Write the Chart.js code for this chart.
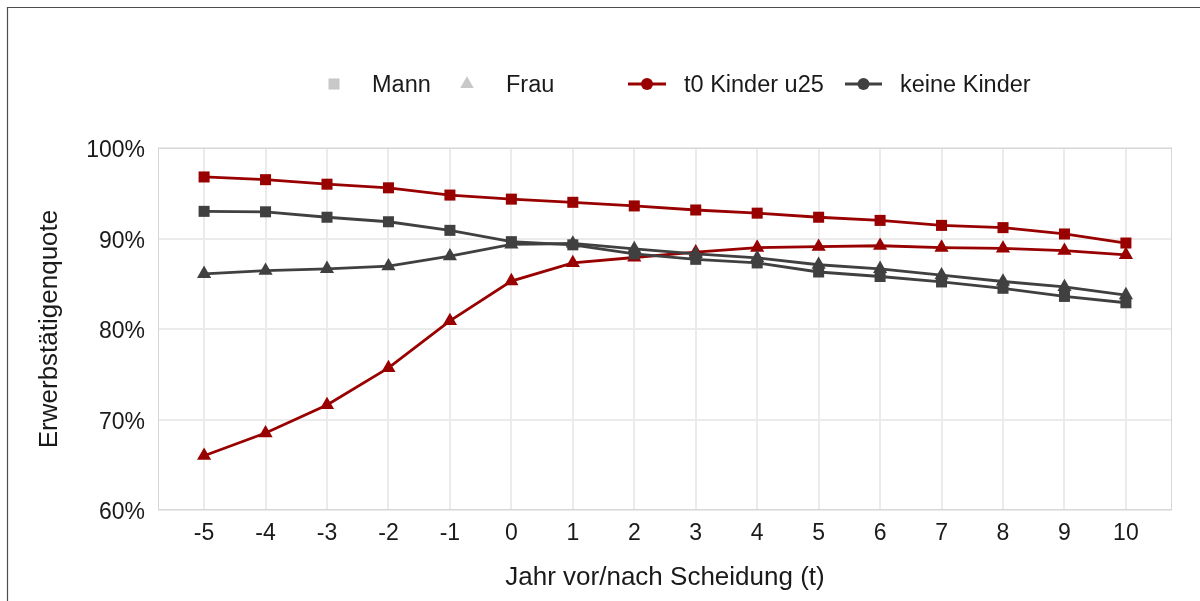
<!DOCTYPE html>
<html>
<head>
<meta charset="utf-8">
<script src="https://cdn.jsdelivr.net/npm/chart.js@4.4.1/dist/chart.umd.min.js"></script>
<style>
  html, body { margin: 0; padding: 0; background: #ffffff; }
  #wrap { width: 1200px; height: 601px; }
</style>
</head>
<body>
<div id="wrap"><canvas id="c" width="1200" height="601"></canvas></div>
<script>
// ---- data ----
const years = [-5, -4, -3, -2, -1, 0, 1, 2, 3, 4, 5, 6, 7, 8, 9, 10];
const mannKinder = [96.8, 96.5, 96.0, 95.6, 94.8, 94.35, 94.0, 93.6, 93.15, 92.8, 92.35, 92.0, 91.45, 91.2, 90.5, 89.5];
const frauKinder = [66.0, 68.5, 71.6, 75.7, 80.9, 85.3, 87.3, 87.9, 88.5, 89.0, 89.1, 89.2, 89.0, 88.9, 88.65, 88.2];
const mannKeine  = [93.0, 92.95, 92.35, 91.85, 90.9, 89.65, 89.3, 88.3, 87.7, 87.3, 86.3, 85.8, 85.2, 84.5, 83.6, 82.9];
const frauKeine  = [86.1, 86.45, 86.65, 86.95, 88.05, 89.35, 89.45, 88.85, 88.3, 87.85, 87.1, 86.65, 85.95, 85.25, 84.65, 83.75];
const yTicks = [60, 70, 80, 90, 100];
const shapeLegend = ['Mann', 'Frau'];
const colorLegend = ['t0 Kinder u25', 'keine Kinder'];
const xTitle = 'Jahr vor/nach Scheidung (t)';
const yTitle = 'Erwerbstätigenquote';

const RED = '#990000';
const GREY = '#404040';
const FONT = '"Liberation Sans", Arial, Helvetica, sans-serif';

function pts(arr) { return years.map((x, i) => ({ x: x, y: arr[i] })); }
function ds(label, arr, color, style, r) {
  return {
    label: label,
    data: pts(arr),
    borderColor: color,
    backgroundColor: color,
    borderWidth: 2.8,
    pointStyle: style,
    pointRadius: r,
    pointHoverRadius: r,
    pointBackgroundColor: color,
    pointBorderColor: color,
    pointBorderWidth: 0,
    tension: 0,
    fill: false
  };
}

const decorPlugin = {
  id: 'decor',
  beforeDraw(chart) {
    const ctx = chart.ctx;
    ctx.save();
    ctx.fillStyle = '#ffffff';
    ctx.fillRect(0, 0, chart.width, chart.height);
    // outer frame (left and top visible)
    ctx.strokeStyle = '#4d4d4d';
    ctx.lineWidth = 1.2;
    ctx.beginPath();
    ctx.moveTo(7.5, chart.height + 2);
    ctx.lineTo(7.5, 7.5);
    ctx.lineTo(chart.width + 2, 7.5);
    ctx.stroke();
    ctx.restore();
  },
  beforeDatasetsDraw(chart) {
    const a = chart.chartArea;
    const ctx = chart.ctx;
    ctx.save();
    ctx.strokeStyle = '#d6d6d6';
    ctx.lineWidth = 1;
    ctx.strokeRect(Math.round(a.left) + 0.5, Math.round(a.top) + 0.5,
                   Math.round(a.right - a.left) - 1, Math.round(a.bottom - a.top) - 1);
    ctx.restore();
  },
  afterDraw(chart) {
    const ctx = chart.ctx;
    const cy = 84;
    ctx.save();
    ctx.font = '23.5px ' + FONT;
    ctx.textBaseline = 'middle';
    ctx.textAlign = 'left';
    // shape legend
    ctx.fillStyle = '#c8c8c8';
    ctx.fillRect(334 - 5.5, cy - 5.5, 11, 11);
    const tr = 7.8;
    ctx.beginPath();
    ctx.moveTo(467, cy - tr);
    ctx.lineTo(467 + tr * Math.sin(2 * Math.PI / 3), cy + tr / 2);
    ctx.lineTo(467 - tr * Math.sin(2 * Math.PI / 3), cy + tr / 2);
    ctx.closePath();
    ctx.fill();
    ctx.fillStyle = '#1a1a1a';
    ctx.fillText(shapeLegend[0], 372, cy + 1.5);
    ctx.fillText(shapeLegend[1], 506, cy + 1.5);
    // colour legend
    const items = [[RED, 628, 666, 684], [GREY, 845, 882, 900]];
    items.forEach((it, i) => {
      ctx.strokeStyle = it[0];
      ctx.lineWidth = 2.8;
      ctx.beginPath();
      ctx.moveTo(it[1], cy);
      ctx.lineTo(it[2], cy);
      ctx.stroke();
      ctx.fillStyle = it[0];
      ctx.beginPath();
      ctx.arc((it[1] + it[2]) / 2, cy, 6, 0, Math.PI * 2);
      ctx.fill();
      ctx.fillStyle = '#1a1a1a';
      ctx.fillText(colorLegend[i], it[3], cy + 1.5);
    });
    ctx.restore();
  }
};

new Chart(document.getElementById('c'), {
  type: 'line',
  data: {
    datasets: [
      ds('Mann – keine Kinder', mannKeine, GREY, 'rect', 7.8),
      ds('Frau – keine Kinder', frauKeine, GREY, 'triangle', 8.2),
      ds('Mann – t0 Kinder u25', mannKinder, RED, 'rect', 7.8),
      ds('Frau – t0 Kinder u25', frauKinder, RED, 'triangle', 8.2)
    ]
  },
  options: {
    responsive: false,
    animation: false,
    devicePixelRatio: 1,
    layout: { padding: { left: 34, right: 28, top: 148, bottom: 0 } },
    plugins: {
      legend: { display: false },
      tooltip: { enabled: false }
    },
    scales: {
      x: {
        type: 'linear',
        min: -5.75,
        max: 10.75,
        afterBuildTicks(scale) { scale.ticks = years.map(v => ({ value: v })); },
        afterFit(scale) { scale.height = 91; },
        grid: { color: '#ebebeb', lineWidth: 2, drawTicks: false },
        border: { display: false },
        ticks: {
          padding: 10,
          color: '#1a1a1a',
          font: { family: FONT, size: 23 },
          autoSkip: false,
          maxRotation: 0,
          callback: v => String(v)
        },
        title: {
          display: true,
          text: xTitle,
          color: '#1a1a1a',
          font: { family: FONT, size: 26 },
          padding: { top: 0, bottom: 8 }
        }
      },
      y: {
        min: 60,
        max: 100,
        afterBuildTicks(scale) { scale.ticks = yTicks.map(v => ({ value: v })); },
        afterFit(scale) { scale.width = 124; },
        grid: { color: '#ebebeb', lineWidth: 2, drawTicks: false },
        border: { display: false },
        ticks: {
          padding: 13,
          labelOffset: 3,
          color: '#1a1a1a',
          font: { family: FONT, size: 23 },
          callback: v => v + '%'
        },
        title: {
          display: true,
          text: yTitle,
          color: '#1a1a1a',
          font: { family: FONT, size: 26 },
          padding: { top: 0, bottom: 0 }
        }
      }
    }
  },
  plugins: [decorPlugin]
});
</script>
</body>
</html>
